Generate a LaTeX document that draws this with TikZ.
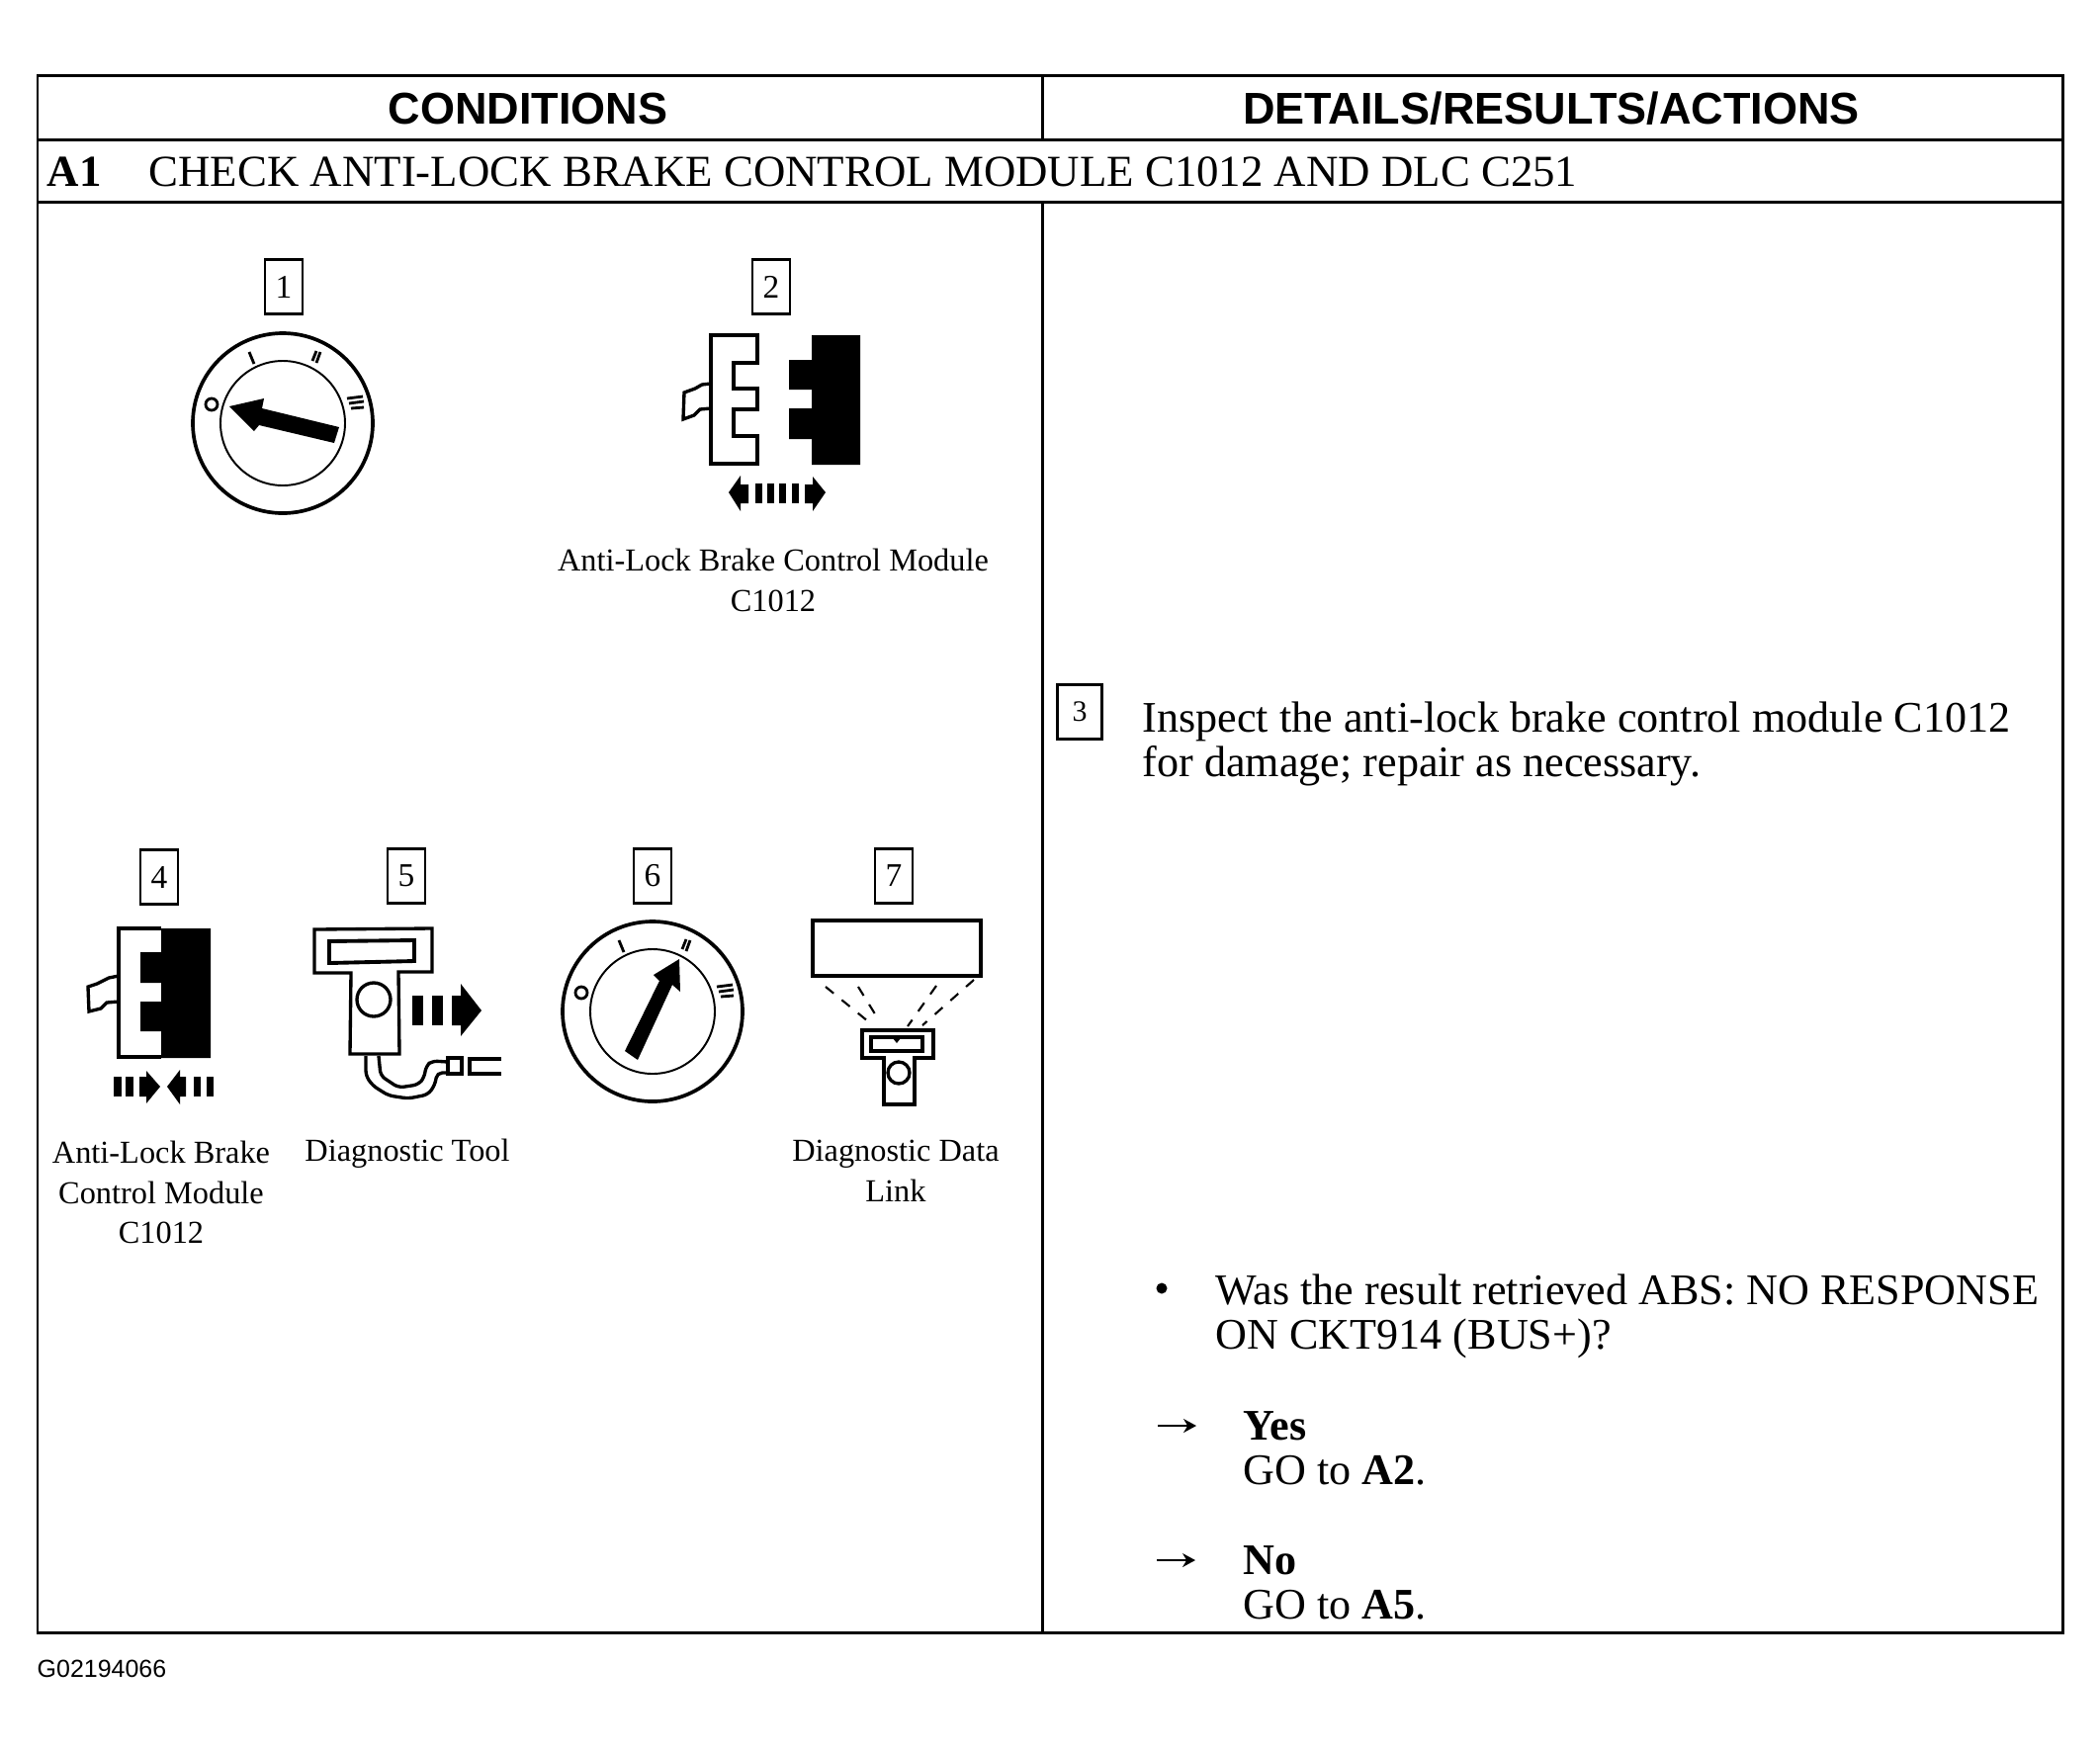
\documentclass[tikz,border=0pt]{standalone}
\usepackage{fontspec}
\setmainfont{Liberation Serif}
\setsansfont{Liberation Sans}
\usetikzlibrary{arrows.meta}
\tikzset{
  x=0.01cm, y=-0.01cm,
  frame/.style={draw, line width=0.85pt},
  headlbl/.style={font=\sffamily\bfseries\fontsize{12.8}{14}\selectfont},
  titlelbl/.style={anchor=west, inner sep=0pt, font=\fontsize{12.75}{14}\selectfont},
  bodytxt/.style={anchor=west, inner sep=0pt, align=left, font=\fontsize{12.55}{12.8}\selectfont},
  numbox/.style={draw, line width=0.6pt, inner sep=0pt, minimum width=0.38cm, minimum height=0.55cm, font=\fontsize{9.5}{10}\selectfont},
  caplbl/.style={align=center, inner sep=0pt, font=\fontsize{9.2}{11.6}\selectfont},
  outline/.style={line width=0.95pt},
  leader/.style={dashed, line width=0.6pt},
  resarrow/.style={-{Stealth[length=1.3mm,width=1.4mm]}, line width=0.45pt},
  dial/.pic={
    \draw[line width=1.05pt] (0,0) circle (91);
    \draw[line width=0.55pt] (0,0) circle (63);
    \draw[line width=0.8pt] (-72,-19) circle (6);
    \draw[line width=0.8pt] (-34,-72) -- (-29,-60);
    \draw[line width=0.8pt] (30,-63) -- (34,-73) (34,-61) -- (38,-72);
    \draw[line width=0.8pt] (65,-25) -- (81,-27) (67,-20) -- (82,-22) (69,-15) -- (82,-16);
  },
}
\begin{document}
\begin{tikzpicture}
  \useasboundingbox (0,0) rectangle (2124,1772);
  % table
  \draw[frame] (38,76) rectangle (2086,1651);
  \coordinate (hl) at (38,141);
  \coordinate (hr) at (2086,141);
  \coordinate (tl) at (38,204);
  \coordinate (tr) at (2086,204);
  \coordinate (mt) at (1054,76);
  \coordinate (mh) at (1054,141);
  \coordinate (mb) at (1054,1651);
  \coordinate (ms) at (1054,204);
  \draw[frame] (hl) -- (hr);
  \draw[frame] (tl) -- (tr);
  \draw[frame] (mt) -- (mh);
  \draw[frame] (ms) -- (mb);
  \node[headlbl] (hcond) at (534,110) {CONDITIONS};
  \node[headlbl] (hdet) at (1569,110) {DETAILS/RESULTS/ACTIONS};
  \node[titlelbl] (aone) at (47,174) {\textbf{A1}};
  \node[titlelbl] (atitle) at (150,174) {CHECK ANTI-LOCK BRAKE CONTROL MODULE C1012 AND DLC C251};
  % number boxes
  \node[numbox] (nb1) at (287,290) {1};
  \node[numbox] (nb2) at (780,290) {2};
  \node[numbox, minimum width=0.45cm] (nb3) at (1092,720) {\raisebox{-2pt}{\fontsize{8.5}{10}\selectfont 3}};
  \node[numbox] (nb4) at (161,887) {4};
  \node[numbox] (nb5) at (411,886) {5};
  \node[numbox] (nb6) at (660,886) {6};
  \node[numbox] (nb7) at (904,886) {7};
  % dial 1
  \pic at (286,428) {dial};
  \fill (232,411) -- (267,403) -- (265,413) -- (343,432) -- (338,448) -- (262,430) -- (257,436) -- cycle;
  % connector apart
  \draw[outline] (719,339) -- (766,339) -- (766,367) -- (742,367) -- (742,393) -- (766,393) -- (766,414) -- (742,414) -- (742,441) -- (766,441) -- (766,469) -- (719,469) -- cycle;
  \draw[outline] (719,388) -- (710,389) -- (703,393) -- (692,397) -- (691,424) -- (702,420) -- (708,414) -- (719,413);
  \fill (821,339) -- (870,339) -- (870,470) -- (821,470) -- (821,444) -- (798,444) -- (798,413) -- (821,413) -- (821,394) -- (798,394) -- (798,364) -- (821,364) -- cycle;
  \fill (737,498) -- (749,481) -- (749,490) -- (757,490) -- (757,509) -- (749,509) -- (749,517) -- cycle;
  \foreach \xa in {764,776,788,801} \fill (\xa,489) rectangle ++(7,20);
  \fill (835,498) -- (822,482) -- (822,490) -- (814,490) -- (814,509) -- (822,509) -- (822,517) -- cycle;
  \node[caplbl] (cap2) at (782,587) {Anti-Lock Brake Control Module\\C1012};
  % connector joined
  \draw[outline] (163,939) -- (120,939) -- (120,1069) -- (163,1069);
  \draw[outline] (120,987) -- (110,989) -- (98,995) -- (89,998) -- (90,1023) -- (102,1020) -- (108,1014) -- (120,1013);
  \fill (163,939) -- (213,939) -- (213,1070) -- (163,1070) -- (163,1043) -- (142,1043) -- (142,1013) -- (163,1013) -- (163,994) -- (142,994) -- (142,963) -- (163,963) -- cycle;
  \foreach \xa in {115,127} \fill (\xa,1089) rectangle ++(8,20);
  \fill (162,1099) -- (148,1083) -- (148,1089) -- (141,1089) -- (141,1109) -- (148,1109) -- (148,1116) -- cycle;
  \fill (169,1099) -- (182,1082) -- (182,1089) -- (188,1089) -- (188,1109) -- (182,1109) -- (182,1117) -- cycle;
  \foreach \xa in {196,209} \fill (\xa,1089) rectangle ++(7,20);
  \node[caplbl] (cap4) at (163,1206) {Anti-Lock Brake\\Control Module\\C1012};
  % diagnostic tool
  \draw[outline] (318,940) -- (437,939) -- (437,983) -- (403,983) -- (404,1066) -- (354,1066) -- (355,984) -- (318,984) -- cycle;
  \draw[line width=1.1pt] (333,952) -- (419,951) -- (419,972) -- (333,974) -- cycle;
  \draw[outline] (378,1011) circle (17);
  \foreach \xa in {417,437} \fill (\xa,1007) rectangle ++(11,30);
  \fill (487,1022) -- (466,995) -- (466,1007) -- (457,1007) -- (457,1037) -- (466,1037) -- (466,1048) -- cycle;
  \draw[outline, rounded corners=1.5pt] (370,1068) -- (370,1088) -- (377,1098) -- (393,1108) -- (413,1111) -- (433,1107) -- (440,1097) -- (442,1085) -- (453,1085);
  \draw[outline, rounded corners=1.5pt] (383,1068) -- (385,1088) -- (403,1100) -- (423,1097) -- (429,1090) -- (431,1078) -- (437,1073) -- (453,1074);
  \draw[outline] (453,1070) rectangle (467,1086);
  \draw[outline] (507,1071) -- (475,1071) -- (475,1086) -- (507,1086);
  \node[caplbl] (cap5) at (412,1167) {Diagnostic Tool};
  % dial 6
  \pic at (660,1023) {dial};
  \fill (687,970) -- (688,1003) -- (680,996) -- (645,1072) -- (632,1063) -- (667,992) -- (661,986) -- cycle;
  % data link
  \draw[line width=1.05pt] (822,931) rectangle (992,987);
  \draw[outline] (872,1042) -- (944,1042) -- (944,1070) -- (925,1070) -- (925,1117) -- (894,1117) -- (894,1070) -- (872,1070) -- cycle;
  \draw[line width=1pt] (881,1049) rectangle (933,1063);
  \fill (903,1050) -- (911,1050) -- (907,1055) -- cycle;
  \draw[outline] (909,1085) circle (11);
  \draw[leader] (835,998) -- (878,1033);
  \draw[leader] (868,998) -- (889,1032);
  \draw[leader] (947,997) -- (918,1038);
  \draw[leader] (985,991) -- (933,1037);
  \node[caplbl] (cap7) at (906,1184) {Diagnostic Data\\Link};
  % right column
  \node[bodytxt] (insp) at (1155,752) {Inspect the anti-lock brake control module C1012\\for damage; repair as necessary.};
  \node[circle, fill, inner sep=0pt, minimum size=0.11cm] (bul) at (1175,1303) {};
  \node[bodytxt] (ques) at (1229,1331) {Was the result retrieved ABS: NO RESPONSE\\ON CKT914 (BUS+)?};
  \coordinate (ya) at (1171,1442);
  \coordinate (yb) at (1210,1442);
  \draw[resarrow] (ya) -- (yb);
  \node[bodytxt] (yes) at (1257,1465) {\textbf{Yes}\\GO to \textbf{A2}.};
  \coordinate (na) at (1170,1578);
  \coordinate (nb) at (1209,1578);
  \draw[resarrow] (na) -- (nb);
  \node[bodytxt] (no) at (1257,1601) {\textbf{No}\\GO to \textbf{A5}.};
  \node[anchor=west, inner sep=0pt, font=\sffamily\fontsize{7.1}{8}\selectfont] (figid) at (37,1688) {G02194066};
\end{tikzpicture}
\end{document}
